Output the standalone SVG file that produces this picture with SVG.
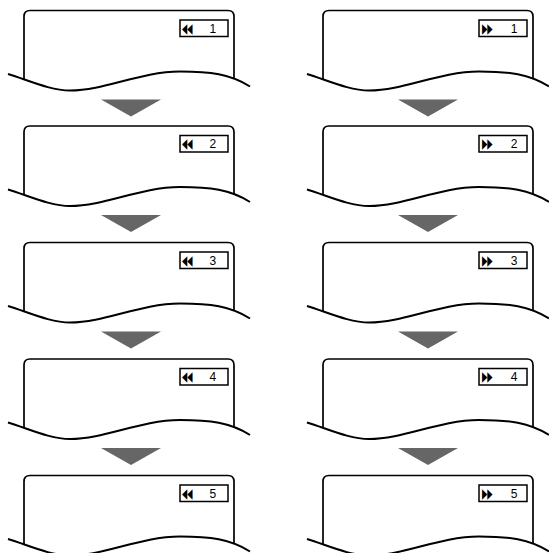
<svg xmlns="http://www.w3.org/2000/svg" xmlns:xlink="http://www.w3.org/1999/xlink" width="549" height="553" viewBox="0 0 549 553">
<style>
.frame{fill:none;stroke:#000;stroke-width:1.7;stroke-linejoin:round}
.wave{fill:none;stroke:#000;stroke-width:2}
.badge{fill:#fff;stroke:#000;stroke-width:1.5}
.lbl{font-family:"Liberation Sans",Arial,sans-serif;font-size:12px;fill:#000}
.tri{font-family:"DejaVu Sans",sans-serif;font-size:13.5px}
.arr{fill:#666}
</style>
<defs>
<path id="frameL" class="frame" d="M24,79 V16.5 Q24,10.5 30,10.5 H228 Q234,10.5 234,16.5 V79"/>
<path id="waveL" class="wave" d="M8,74 C28,80 50,90.5 70,90.5 C105,90.5 140,71.5 180,71.5 C210,71.5 230,74 250,86.5"/>
<rect id="badgeL" class="badge" x="180" y="20" width="48" height="16.5"/>
<path id="frameR" class="frame" d="M323,79 V16.5 Q323,10.5 329,10.5 H527 Q533,10.5 533,16.5 V79"/>
<path id="waveR" class="wave" d="M307,74 C327,80 349,90.5 369,90.5 C404,90.5 439,71.5 479,71.5 C509,71.5 529,74 549,86.5"/>
<rect id="badgeR" class="badge" x="479" y="20" width="48" height="16.5"/>
</defs>

<g id="rew1"><use xlink:href="#frameL"/><use xlink:href="#waveL"/><use xlink:href="#badgeL"/>
<text class="lbl" y="32.7"><tspan class="tri" x="182" y="32.5" textLength="10.5" lengthAdjust="spacingAndGlyphs">◀◀</tspan><tspan x="206.2" y="32.7"> 1</tspan></text></g>
<g id="rew2" transform="translate(0,115.5)"><use xlink:href="#frameL"/><use xlink:href="#waveL"/><use xlink:href="#badgeL"/>
<text class="lbl" y="32.7"><tspan class="tri" x="182" y="32.5" textLength="10.5" lengthAdjust="spacingAndGlyphs">◀◀</tspan><tspan x="206.2" y="32.7"> 2</tspan></text></g>
<g id="rew3" transform="translate(0,232)"><use xlink:href="#frameL"/><use xlink:href="#waveL"/><use xlink:href="#badgeL"/>
<text class="lbl" y="32.7"><tspan class="tri" x="182" y="32.5" textLength="10.5" lengthAdjust="spacingAndGlyphs">◀◀</tspan><tspan x="206.2" y="32.7"> 3</tspan></text></g>
<g id="rew4" transform="translate(0,348.5)"><use xlink:href="#frameL"/><use xlink:href="#waveL"/><use xlink:href="#badgeL"/>
<text class="lbl" y="32.7"><tspan class="tri" x="182" y="32.5" textLength="10.5" lengthAdjust="spacingAndGlyphs">◀◀</tspan><tspan x="206.2" y="32.7"> 4</tspan></text></g>
<g id="rew5" transform="translate(0,465)"><use xlink:href="#frameL"/><use xlink:href="#waveL"/><use xlink:href="#badgeL"/>
<text class="lbl" y="32.7"><tspan class="tri" x="182" y="32.5" textLength="10.5" lengthAdjust="spacingAndGlyphs">◀◀</tspan><tspan x="206.2" y="32.7"> 5</tspan></text></g>

<g id="ff1"><use xlink:href="#frameR"/><use xlink:href="#waveR"/><use xlink:href="#badgeR"/>
<text class="lbl" y="32.7"><tspan class="tri" x="482" y="32.5" textLength="10.5" lengthAdjust="spacingAndGlyphs">▶▶</tspan><tspan x="507.5" y="32.7"> 1</tspan></text></g>
<g id="ff2" transform="translate(0,115.5)"><use xlink:href="#frameR"/><use xlink:href="#waveR"/><use xlink:href="#badgeR"/>
<text class="lbl" y="32.7"><tspan class="tri" x="482" y="32.5" textLength="10.5" lengthAdjust="spacingAndGlyphs">▶▶</tspan><tspan x="507.5" y="32.7"> 2</tspan></text></g>
<g id="ff3" transform="translate(0,232)"><use xlink:href="#frameR"/><use xlink:href="#waveR"/><use xlink:href="#badgeR"/>
<text class="lbl" y="32.7"><tspan class="tri" x="482" y="32.5" textLength="10.5" lengthAdjust="spacingAndGlyphs">▶▶</tspan><tspan x="507.5" y="32.7"> 3</tspan></text></g>
<g id="ff4" transform="translate(0,348.5)"><use xlink:href="#frameR"/><use xlink:href="#waveR"/><use xlink:href="#badgeR"/>
<text class="lbl" y="32.7"><tspan class="tri" x="482" y="32.5" textLength="10.5" lengthAdjust="spacingAndGlyphs">▶▶</tspan><tspan x="507.5" y="32.7"> 4</tspan></text></g>
<g id="ff5" transform="translate(0,465)"><use xlink:href="#frameR"/><use xlink:href="#waveR"/><use xlink:href="#badgeR"/>
<text class="lbl" y="32.7"><tspan class="tri" x="482" y="32.5" textLength="10.5" lengthAdjust="spacingAndGlyphs">▶▶</tspan><tspan x="507.5" y="32.7"> 5</tspan></text></g>

<g id="connectors">
<polygon class="arr" points="101,99.5 161,99.5 131,116.5"/>
<polygon class="arr" points="101,215 161,215 131,232"/>
<polygon class="arr" points="101,331.5 161,331.5 131,348.5"/>
<polygon class="arr" points="101,448 161,448 131,465"/>
<polygon class="arr" points="398,99.5 458,99.5 428,116.5"/>
<polygon class="arr" points="398,215 458,215 428,232"/>
<polygon class="arr" points="398,331.5 458,331.5 428,348.5"/>
<polygon class="arr" points="398,448 458,448 428,465"/>
</g>
</svg>
